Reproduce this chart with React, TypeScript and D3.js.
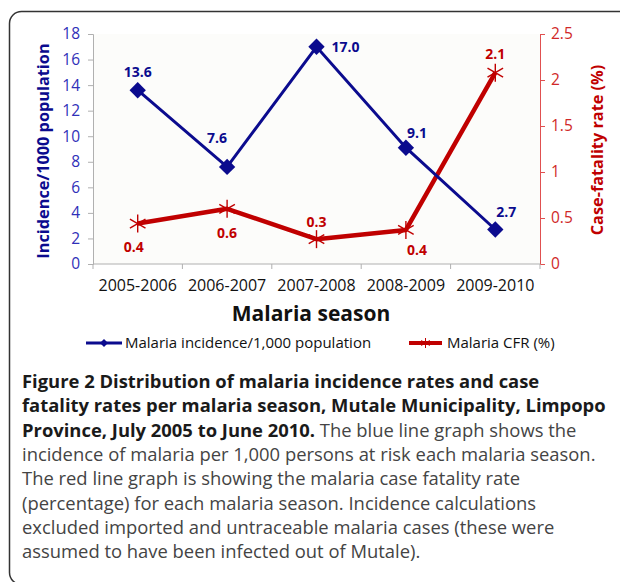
import { useEffect, useRef } from 'react';
import * as d3 from 'd3';

const seasons = ['2005-2006', '2006-2007', '2007-2008', '2008-2009', '2009-2010'];
const incidence = [13.6, 7.6, 17.0, 9.1, 2.7];
const cfr = [0.44, 0.6, 0.27, 0.37, 2.08];
const incidenceTicks = [0, 2, 4, 6, 8, 10, 12, 14, 16, 18];
const cfrTicks = [0, 0.5, 1, 1.5, 2, 2.5];
// label placement per point: dx, dy relative to marker, anchor
const incidenceLabelPos: [number, number, string][] = [
  [0, -13, 'middle'], [-10, -24, 'middle'], [15, 5, 'start'], [11, -10, 'middle'], [11, -13, 'middle'],
];
const cfrLabelPos: [number, number, string][] = [
  [-4, 28, 'middle'], [0, 29, 'middle'], [0, -12, 'middle'], [11, 25, 'middle'], [0, -14, 'middle'],
];
const legendItems = ['Malaria incidence/1,000 population', 'Malaria CFR (%)'];
const captionLines: [string, string][] = [
  ['Figure 2 Distribution of malaria incidence rates and case', ''],
  ['fatality rates per malaria season, Mutale Municipality, Limpopo', ''],
  ['Province, July 2005 to June 2010.', ' The blue line graph shows the'],
  ['', 'incidence of malaria per 1,000 persons at risk each malaria season.'],
  ['', 'The red line graph is showing the malaria case fatality rate'],
  ['', '(percentage) for each malaria season. Incidence calculations'],
  ['', 'excluded imported and untraceable malaria cases (these were'],
  ['', 'assumed to have been infected out of Mutale).'],
];

const BLUE = '#0b0b8e';
const BLUE_TXT = '#3030b8';
const RED = '#c00000';
const RED_TXT = '#d02828';
const FONT = '"Open Sans", sans-serif';

function asterisk(g: d3.Selection<SVGGElement, unknown, null, undefined>, cx: number, cy: number, r: number, w: number) {
  const arms = [0, 60, 120];
  arms.forEach(a => {
    const rad = (a * Math.PI) / 180;
    g.append('line')
      .attr('x1', cx - r * Math.sin(rad)).attr('y1', cy - r * Math.cos(rad))
      .attr('x2', cx + r * Math.sin(rad)).attr('y2', cy + r * Math.cos(rad))
      .attr('stroke', RED).attr('stroke-width', w);
  });
}

export default function App() {
  const svgRef = useRef<SVGSVGElement>(null);

  useEffect(() => {
    if (!svgRef.current) return;
    const svg = d3.select(svgRef.current);
    svg.selectAll('*').remove();

    // frame
    svg.append('rect')
      .attr('x', 9.5).attr('y', 11.5).attr('width', 660).attr('height', 573).attr('rx', 12)
      .attr('fill', 'none').attr('stroke', '#333').attr('stroke-width', 1.5);

    const left = 93, right = 540, top = 34, bottom = 264;

    const x = d3.scaleBand<string>().domain(seasons).range([left, right]);
    const yL = d3.scaleLinear().domain([0, 18]).range([bottom, top]);
    const yR = d3.scaleLinear().domain([0, 2.5]).range([bottom, top]);

    svg.append('rect')
      .attr('x', left).attr('y', top).attr('width', right - left).attr('height', bottom - top)
      .attr('fill', '#fcfcfa');

    // left axis
    const gl = svg.append('g').attr('transform', `translate(${left},0)`)
      .call(d3.axisLeft(yL).tickValues(incidenceTicks).tickSize(5).tickPadding(8));
    gl.selectAll('.domain, .tick line').attr('stroke', '#b0b0b0');
    gl.selectAll('text').attr('fill', BLUE_TXT).style('font-family', FONT).style('font-size', '15.5px');

    // right axis
    const gr = svg.append('g').attr('transform', `translate(${right},0)`)
      .call(d3.axisRight(yR).tickValues(cfrTicks).tickFormat(d3.format('')).tickSize(5).tickPadding(6));
    gr.selectAll('.domain, .tick line').attr('stroke', '#e05050');
    gr.selectAll('text').attr('fill', RED_TXT).style('font-family', FONT).style('font-size', '15.5px');

    // bottom axis with boundary ticks
    const gb = svg.append('g').attr('transform', `translate(0,${bottom})`);
    gb.append('line').attr('x1', left).attr('x2', right).attr('stroke', '#b0b0b0');
    const bounds = seasons.map(s => x(s) ?? 0).concat([right]);
    gb.selectAll('line.tk').data(bounds).enter().append('line')
      .attr('class', 'tk')
      .attr('x1', d => d).attr('x2', d => d).attr('y1', 0).attr('y2', 5)
      .attr('stroke', '#b0b0b0');
    gb.selectAll('text').data(seasons).enter().append('text')
      .attr('x', d => (x(d) ?? 0) + x.bandwidth() / 2)
      .attr('y', 27)
      .attr('text-anchor', 'middle')
      .attr('fill', '#111')
      .style('font-family', FONT).style('font-size', '16px')
      .text(d => d);

    // axis titles
    svg.append('text')
      .attr('transform', `translate(49,${(top + bottom) / 2 + 2}) rotate(-90)`)
      .attr('text-anchor', 'middle')
      .attr('fill', BLUE)
      .style('font-family', FONT).style('font-size', '16.3px').style('font-weight', 700)
      .text('Incidence/1000 population');
    svg.append('text')
      .attr('transform', `translate(603,${(top + bottom) / 2 + 1}) rotate(-90)`)
      .attr('text-anchor', 'middle')
      .attr('fill', RED)
      .style('font-family', FONT).style('font-size', '16.3px').style('font-weight', 700)
      .text('Case-fatality rate (%)');
    svg.append('text')
      .attr('x', 311).attr('y', 321)
      .attr('text-anchor', 'middle')
      .attr('fill', '#111')
      .style('font-family', FONT).style('font-size', '21px').style('font-weight', 700)
      .text('Malaria season');

    const cx = (i: number) => (x(seasons[i]) ?? 0) + x.bandwidth() / 2;

    // red line
    const redLine = d3.line<number>().x((_, i) => cx(i)).y(d => yR(d));
    svg.append('path').datum(cfr).attr('d', redLine)
      .attr('fill', 'none').attr('stroke', RED).attr('stroke-width', 4.5).attr('stroke-linejoin', 'round');
    const gRed = svg.append('g');
    cfr.forEach((v, i) => asterisk(gRed, cx(i), yR(v), 9, 1.4));

    // blue line
    const blueLine = d3.line<number>().x((_, i) => cx(i)).y(d => yL(d));
    svg.append('path').datum(incidence).attr('d', blueLine)
      .attr('fill', 'none').attr('stroke', BLUE).attr('stroke-width', 3);
    svg.selectAll('path.dia').data(incidence).enter().append('path')
      .attr('class', 'dia')
      .attr('d', d3.symbol().type(d3.symbolDiamond2).size(170)())
      .attr('transform', (d, i) => `translate(${cx(i)},${yL(d)})`)
      .attr('fill', BLUE);

    // value labels
    incidence.forEach((v, i) => {
      const [dx, dy, anchor] = incidenceLabelPos[i];
      svg.append('text')
        .attr('x', cx(i) + dx).attr('y', yL(v) + dy)
        .attr('text-anchor', anchor)
        .attr('fill', BLUE)
        .style('font-family', FONT).style('font-size', '14px').style('font-weight', 700)
        .text(v.toFixed(1));
    });
    cfr.forEach((v, i) => {
      const [dx, dy, anchor] = cfrLabelPos[i];
      svg.append('text')
        .attr('x', cx(i) + dx).attr('y', yR(v) + dy)
        .attr('text-anchor', anchor)
        .attr('fill', RED)
        .style('font-family', FONT).style('font-size', '14px').style('font-weight', 700)
        .text(v.toFixed(1));
    });

    // legend
    const ly = 343;
    svg.append('line').attr('x1', 86).attr('x2', 122).attr('y1', ly).attr('y2', ly)
      .attr('stroke', BLUE).attr('stroke-width', 3);
    svg.append('path').attr('d', d3.symbol().type(d3.symbolDiamond2).size(40)())
      .attr('transform', `translate(104,${ly})`).attr('fill', BLUE);
    svg.append('text').attr('x', 125).attr('y', ly + 5)
      .attr('fill', '#111').style('font-family', FONT).style('font-size', '15px')
      .text(legendItems[0]);
    svg.append('line').attr('x1', 409).attr('x2', 442).attr('y1', ly).attr('y2', ly)
      .attr('stroke', RED).attr('stroke-width', 4);
    const gLeg = svg.append('g');
    asterisk(gLeg, 425.5, ly, 5, 1);
    svg.append('text').attr('x', 447).attr('y', ly + 5)
      .attr('fill', '#111').style('font-family', FONT).style('font-size', '15px')
      .text(legendItems[1]);

    // caption
    const cap = svg.append('text')
      .attr('x', 22)
      .style('font-family', FONT).style('font-size', '18.4px');
    captionLines.forEach(([b, n], i) => {
      const y = 388 + i * 24.3;
      if (b) {
        cap.append('tspan').attr('x', 22).attr('y', y)
          .attr('fill', '#1a1a1a').style('font-weight', 700).text(b);
        if (n) cap.append('tspan').attr('fill', '#444').text(n);
      } else {
        cap.append('tspan').attr('x', 22).attr('y', y).attr('fill', '#444').text(n);
      }
    });
  }, []);

  return (
    <svg ref={svgRef} width={620} height={582}
      style={{ position: 'absolute', left: 0, top: 0, background: '#fff' }} />
  );
}
